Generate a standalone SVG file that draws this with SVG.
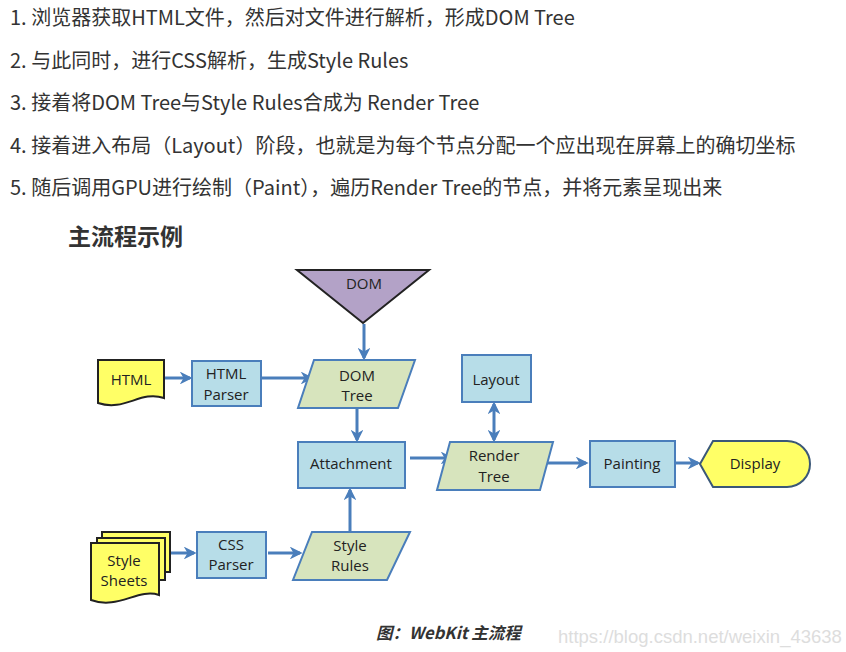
<svg xmlns="http://www.w3.org/2000/svg" width="846" height="652" viewBox="0 0 846 652">
<defs>
<marker id="ah" viewBox="0 0 10 10" refX="8" refY="5" markerWidth="4.3" markerHeight="4.3" orient="auto-start-reverse" markerUnits="strokeWidth">
<path d="M0,0 L10,5 L0,10 L3,5 Z" fill="#4a7ebb"/>
</marker>
</defs>
<style>
.top{font-family:"Noto Sans CJK SC","Liberation Sans",sans-serif;font-size:20px;fill:#333}
.lbl{font-family:"Open Sans","Liberation Sans",sans-serif;font-size:15px;fill:#222;text-anchor:middle}
.blue{fill:#b7dde8;stroke:#4a7ebb;stroke-width:2}
.green{fill:#d7e4bd;stroke:#4a7ebb;stroke-width:2}
.yel{fill:#ffff66;stroke:#222;stroke-width:2}
.con{stroke:#4a7ebb;stroke-width:3;fill:none;marker-end:url(#ah)}
</style>
<rect width="846" height="652" fill="#fff"/>
<g id="intro">
<text class="top" x="10" y="25">1. 浏览器获取HTML文件，然后对文件进行解析，形成DOM Tree</text>
<text class="top" x="10" y="68">2. 与此同时，进行CSS解析，生成Style Rules</text>
<text class="top" x="10" y="110">3. 接着将DOM Tree与Style Rules合成为 Render Tree</text>
<text class="top" x="10" y="153">4. 接着进入布局（Layout）阶段，也就是为每个节点分配一个应出现在屏幕上的确切坐标</text>
<text class="top" x="10" y="195">5. 随后调用GPU进行绘制（Paint），遍历Render Tree的节点，并将元素呈现出来</text>
<text x="68" y="245" style="font-family:'Noto Sans CJK SC',sans-serif;font-size:23px;font-weight:bold;fill:#333">主流程示例</text>
</g>
<g id="connectors">
<line class="con" x1="364" y1="324" x2="364" y2="358"/>
<line class="con" x1="165" y1="378" x2="190" y2="378"/>
<line class="con" x1="262" y1="378" x2="311" y2="378"/>
<line class="con" x1="357" y1="409" x2="357" y2="440"/>
<line class="con" x1="410" y1="458" x2="451" y2="458"/>
<line class="con" x1="350" y1="531" x2="350" y2="490"/>
<line class="con" x1="494" y1="440" x2="494" y2="404" style="marker-start:url(#ah)"/>
<line class="con" x1="547" y1="463" x2="586" y2="463"/>
<line class="con" x1="676" y1="463" x2="698" y2="463"/>
<line class="con" x1="171" y1="553" x2="194" y2="553"/>
<line class="con" x1="268" y1="553" x2="300" y2="553"/>
</g>
<g id="dom">
<polygon points="297,270 429,270 363,323" fill="#b3a2c7" stroke="#222" stroke-width="2"/>
<text class="lbl" x="364" y="289">DOM</text>
</g>
<g id="html">
<path class="yel" d="M98,360 H164 V398 C140,390 125,412 98,403 Z"/>
<text class="lbl" x="131" y="385">HTML</text>
</g>
<g id="html-parser">
<rect class="blue" x="192" y="361" width="69" height="45"/>
<text class="lbl" x="226" y="379">HTML</text>
<text class="lbl" x="226" y="400">Parser</text>
</g>
<g id="dom-tree">
<polygon class="green" points="314,360 415,360 398,408 298,408"/>
<text class="lbl" x="357" y="381">DOM</text>
<text class="lbl" x="357" y="401">Tree</text>
</g>
<g id="attachment">
<rect class="blue" x="298" y="442" width="107" height="46"/>
<text class="lbl" x="351" y="469">Attachment</text>
</g>
<g id="layout">
<rect class="blue" x="462" y="355" width="69" height="47"/>
<text class="lbl" x="496" y="385">Layout</text>
</g>
<g id="render-tree">
<polygon class="green" points="450,442 553,442 540,490 437,490"/>
<text class="lbl" x="494" y="461">Render</text>
<text class="lbl" x="494" y="482">Tree</text>
</g>
<g id="painting">
<rect class="blue" x="590" y="441" width="85" height="46"/>
<text class="lbl" x="632" y="469">Painting</text>
</g>
<g id="display">
<path d="M700,464 L713,441 H787 A23,23 0 0 1 787,487 H713 Z" fill="#ffff66" stroke="#3b5878" stroke-width="2"/>
<text class="lbl" x="755" y="469">Display</text>
</g>
<g id="style-sheets">
<path class="yel" d="M102,532 H170 V572 H102 Z"/>
<path class="yel" d="M97,538 H165 V580 H97 Z"/>
<path class="yel" d="M91,543 H159 V595 C138,588 118,610 91,600 Z"/>
<text class="lbl" x="124" y="566">Style</text>
<text class="lbl" x="124" y="586">Sheets</text>
</g>
<g id="css-parser">
<rect class="blue" x="197" y="532" width="69" height="46"/>
<text class="lbl" x="231" y="550">CSS</text>
<text class="lbl" x="231" y="570">Parser</text>
</g>
<g id="style-rules">
<polygon class="green" points="312,532 410,532 387,580 293,580"/>
<text class="lbl" x="350" y="551">Style</text>
<text class="lbl" x="350" y="571">Rules</text>
</g>
<g id="caption">
<text x="376" y="639" style="font-family:'Noto Sans CJK SC','Liberation Sans',sans-serif;font-size:16.5px;font-weight:bold;font-style:italic;fill:#333">图：WebKit 主流程</text>
<text x="558" y="643" style="font-family:'Liberation Sans',sans-serif;font-size:18.5px;fill:#ddd">https://blog.csdn.net/weixin_43638</text>
</g>
</svg>
